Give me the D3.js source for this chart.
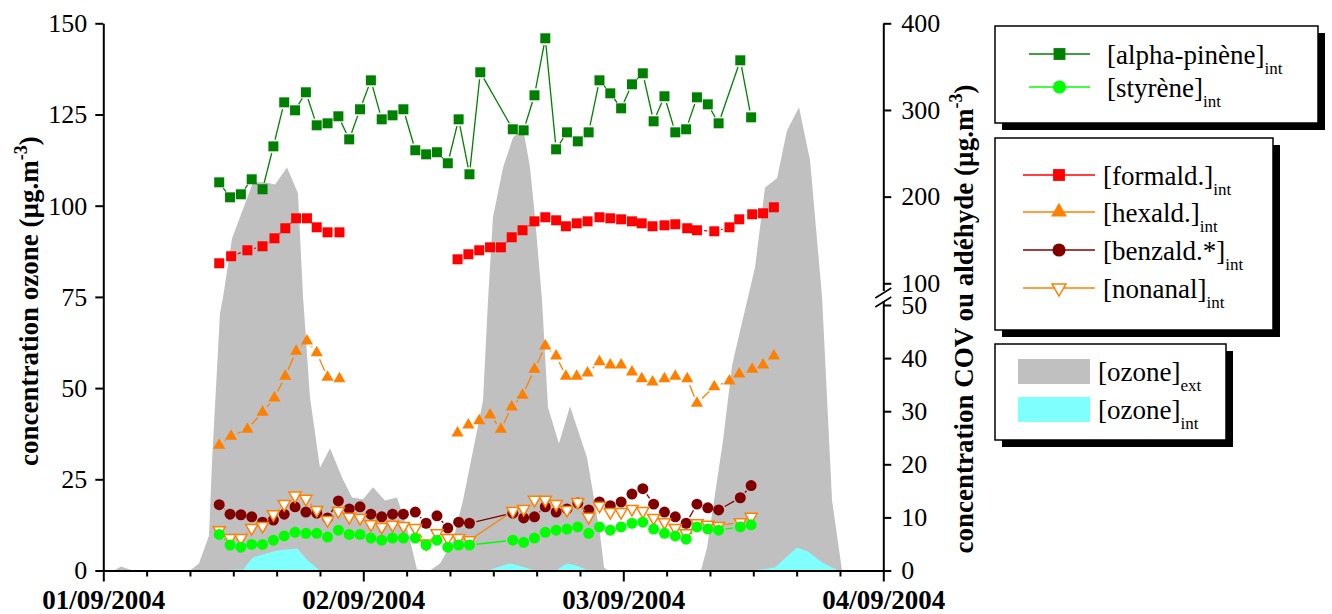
<!DOCTYPE html>
<html>
<head>
<meta charset="utf-8">
<script src="https://cdnjs.cloudflare.com/ajax/libs/d3/7.8.5/d3.min.js"></script>
<style>
  body { margin: 0; background: #fff; }
  svg text { font-family: "Liberation Serif", "Times New Roman", serif; fill: #000; }
</style>
</head>
<body>
<div id="chart"></div>
<script>
// heures depuis le 01/09/2004 00:00
const hoursVoc = [10.7, 11.7, 12.7, 13.7, 14.7, 15.7, 16.7, 17.7, 18.7, 19.7, 20.7, 21.7, 22.7, 23.7, 24.7, 25.7, 26.7, 27.7,
    28.8, 29.8, 30.8, 31.8, 32.8, 33.8, 34.8, 35.8, 36.8, 37.8, 38.8, 39.8, 40.8, 41.8, 42.8, 43.8, 44.8, 45.8, 46.8, 47.8,
    48.8, 49.8, 50.8, 51.8, 52.8, 53.8, 54.8, 55.8, 56.8, 57.8, 58.8, 59.8];

const alphaPinene = [216.5, 199.2, 202.7, 220, 208.5, 258, 308.8, 299.6, 320.4, 282.3, 284.6, 292.7, 266.1, 300.8, 334.2,
    289.2, 293.8, 300.8, 253.5, 248.8, 251.2, 238.5, 289.2, 225.8, 343.5, null, null, 277.7, 276.5, 316.9, 382.7, 254.6,
    274.2, 263.8, 274.2, 334.2, 319.2, 301.9, 329.6, 342.3, 286.9, 315.8, 274.2, 277.7, 314.6, 306.5, 284.6, null, 357.3, 291.5];

const styrene = [6.8, 4.8, 4.4, 4.9, 4.9, 5.7, 6.5, 7.2, 7.0, 7.0, 6.3, 7.6, 6.8, 6.8, 6.1, 5.7, 6.1, 6.1, 6.1, 4.8, 5.7,
    4.4, 4.8, 4.8, null, null, null, 5.7, 5.3, 6.1, 7.2, 7.6, 7.8, 8.2, 7.0, 8.2, 7.6, 8.2, 8.9, 9.1, 7.8, 7.0, 6.5, 5.9,
    8.2, 7.8, 7.6, null, 8.2, 8.6];

const benzald = [12.4, 10.6, 10.5, 10.1, 9.1, 9.5, 10.6, 12.0, 11.0, 10.8, 9.9, 13.1, 11.6, 12.0, 10.6, 10.1, 10.6, 10.6,
    11.0, 8.9, 10.3, 8.0, 9.1, 8.9, null, null, null, 10.8, 9.9, 10.1, 12.0, 11.0, 11.6, 12.7, 11.4, 12.9, 12.2, 12.9, 14.4,
    15.4, 12.5, 11.0, 10.1, 8.9, 12.5, 11.8, 11.4, null, 13.7, 16.0];

const nonanal = [7.6, 6.1, 6.1, 8.0, 8.4, 10.6, 12.5, 14.1, 13.5, 11.4, 9.5, 11.2, 10.1, 9.9, 8.7, 8.2, 8.6, 8.4, 8.0, 5.1,
    7.0, 6.1, 6.1, 5.7, null, null, null, 11.2, 11.6, 13.3, 13.3, 12.5, 11.4, 12.9, 10.1, 12.2, 11.0, 11.0, 11.6, 11.2, 9.9,
    9.1, 8.0, 7.0, 8.9, 8.6, 8.4, null, 9.1, 10.1];

// formaldéhyde et hexanal : autres heures de prélèvement (null = interruption de la courbe)
const hoursAld = [10.7, 11.8, 13.3, 14.7, 15.8, 16.8, 17.8, 18.8, 19.7, 20.7, 21.8, 27,
    32.7, 33.7, 34.7, 35.7, 36.7, 37.7, 38.7, 39.8, 40.8, 41.8, 42.7, 43.7, 44.7, 45.8, 46.8, 47.8, 48.8, 49.7, 50.7,
    51.8, 52.8, 53.9, 54.8, 56.4, 57.8, 58.7, 59.9, 60.9, 61.9];

const formald = [123.1, 131.2, 138.1, 142.7, 151.9, 163.5, 175, 175, 164.6, 158.8, 158.8, null,
    127.7, 133.5, 138.1, 141.5, 141.5, 153.1, 161.2, 171.5, 176.2, 172.7, 165.8, 169.2, 171.5, 176.2, 175, 173.8, 171.5,
    169.2, 165.8, 166.9, 168.1, 163.5, 161.2, 160, 164.6, 173.8, 179.6, 180.8, 187.7];

const hexald = [23.6, 25.3, 26.6, 29.8, 32.5, 36.6, 41.3, 43.2, 41.0, 36.4, 36.1, null,
    25.9, 27.4, 28.2, 29.3, 26.6, 30.8, 33.0, 37.9, 42.3, 40.4, 36.6, 36.6, 37.2, 39.3, 38.7, 38.7, 37.4, 36.1, 35.5,
    36.1, 36.6, 36.1, 31.5, 34.6, 35.7, 37.0, 37.9, 38.7, 40.4];

// ozone extérieur / intérieur (axe de gauche)
const ozoneExtHours = [0, 0.99, 1.63, 2.74, 8.0, 8.83, 9.76, 10.03, 10.77, 11.05, 11.88, 13.82, 14.93, 15.85, 16.96, 17.97,
    18.44, 19.08, 20.0, 20.93, 22.04, 22.96, 23.97, 24.9, 26.0, 27.11, 28.03, 28.96, 30.16, 31.08, 32.28, 33.2, 34.13,
    35.05, 35.51, 35.97, 36.9, 37.82, 38.75, 39.39, 39.85, 40.5, 41.05, 42.06, 43.08, 44.65, 45.85, 46.22, 46.59, 55.17,
    55.73, 57.2, 58.04, 58.78, 59.51, 60.16, 61.08, 62.19, 63.11, 64.22, 65.24, 66.35, 67.27, 68.19, 72];
const ozoneExt = [0, 0, 1.1, 0, 0, 1.9, 9.6, 29.6, 70.5, 74.9, 91.0, 106.4, 106.4, 105.8, 110.5, 103.4,
    74.9, 47.4, 28.2, 33.5, 25.5, 20.0, 19.5, 22.8, 19.2, 20.0, 11.8, 0.3, 0, 1.9, 8.2, 19.2, 32.9,
    46.6, 74.0, 96.8, 110.5, 118.7, 121.2, 110.5, 96.8, 74.0, 44.7, 34.8, 45.0, 31.0, 10.1, 0.8, 0, 0,
    6.3, 35.6, 56.2, 65.8, 74.9, 83.1, 105.0, 107.5, 120.6, 127.0, 112.4, 74.9, 19.2, 0, 0];

const ozoneIntHours = [0, 11.05, 11.97, 12.9, 13.82, 16.04, 17.88, 18.9, 20.0, 35.42, 36.62, 37.54, 38.65, 39.85, 41.79,
    42.81, 43.64, 44.75, 59.97, 62.0, 64.03, 65.05, 66.35, 67.82, 72];
const ozoneInt = [0, 0, 0.3, 0.3, 3.6, 5.5, 6.0, 2.7, 0, 0, 1.1, 1.9, 1.1, 0, 0,
    1.9, 1.4, 0, 0, 0.8, 6.3, 5.2, 2.2, 0, 0];

const leftTicks = [0, 25, 50, 75, 100, 125, 150];
const rightTicks = [0, 10, 20, 30, 40, 50, 100, 200, 300, 400];
const dayTicks = [0, 24, 48, 72];
const dayLabels = ["01/09/2004", "02/09/2004", "03/09/2004", "04/09/2004"];
const minorTicks = [4, 8, 12, 16, 20, 28, 32, 36, 40, 44, 52, 56, 60, 64, 68];

const width = 1332, height = 614;

const svg = d3.select("#chart").append("svg")
    .attr("width", width)
    .attr("height", height);

const x = d3.scaleLinear().domain([0, 72]).range([103.3, 883.3]);
const yLeft = d3.scaleLinear().domain([0, 150]).range([570.5, 23.3]);
// axe droit coupé entre 50 et 100
const yRight = d3.scaleLinear().domain([0, 50, 100, 400]).range([570.5, 305, 283.3, 23.3]);

// aires d'ozone
const area = d3.area()
    .x(d => x(d.h))
    .y0(yLeft(0))
    .y1(d => yLeft(d.v));

svg.append("path")
    .datum(ozoneExtHours.map((h, i) => ({ h: h, v: ozoneExt[i] })))
    .attr("d", area)
    .attr("fill", "#c0c0c0");

svg.append("path")
    .datum(ozoneIntHours.map((h, i) => ({ h: h, v: ozoneInt[i] })))
    .attr("d", area)
    .attr("fill", "#80ffff");

// breakOnNull : la courbe s'interrompt au trou, sinon on relie par-dessus les valeurs manquantes
const series = [
    { hours: hoursVoc, values: alphaPinene, color: "#008000", symbol: d3.symbolSquare, size: 100 },
    { hours: hoursAld, values: formald, color: "#ff0000", symbol: d3.symbolSquare, size: 100, breakOnNull: true },
    { hours: hoursAld, values: hexald, color: "#ff8000", symbol: d3.symbolTriangle, size: 64, breakOnNull: true },
    { hours: hoursVoc, values: benzald, color: "#800000", symbol: d3.symbolCircle, size: 95 },
    { hours: hoursVoc, values: nonanal, color: "#ff8000", symbol: d3.symbolTriangle, size: 64, flip: true, hollow: true },
    { hours: hoursVoc, values: styrene, color: "#00ff00", symbol: d3.symbolCircle, size: 95 }
];

const gap = 7;

series.forEach(s => {
    let pts = s.hours.map((h, i) => ({ h: h, v: s.values[i] }));
    if (!s.breakOnNull) pts = pts.filter(d => d.v != null);
    const g = svg.append("g");

    // segments interrompus autour des symboles (style Origin)
    for (let i = 1; i < pts.length; i++) {
        const a = pts[i - 1], b = pts[i];
        if (a.v == null || b.v == null) continue;
        const x1 = x(a.h), y1 = yRight(a.v), x2 = x(b.h), y2 = yRight(b.v);
        const len = Math.hypot(x2 - x1, y2 - y1);
        if (len <= 2 * gap) continue;
        const ux = (x2 - x1) / len, uy = (y2 - y1) / len;
        g.append("line")
            .attr("x1", x1 + ux * gap).attr("y1", y1 + uy * gap)
            .attr("x2", x2 - ux * gap).attr("y2", y2 - uy * gap)
            .attr("stroke", s.color)
            .attr("stroke-width", 1.3);
    }

    g.selectAll(".mark")
        .data(pts.filter(d => d.v != null))
        .enter()
        .append("path")
        .attr("class", "mark")
        .attr("transform", d => `translate(${x(d.h)},${yRight(d.v)})` + (s.flip ? " rotate(180)" : ""))
        .attr("d", d3.symbol().type(s.symbol).size(s.size))
        .attr("fill", s.hollow ? "#fff" : s.color)
        .attr("stroke", s.hollow ? s.color : "none")
        .attr("stroke-width", 1.5);
});

// axes
svg.append("g")
    .attr("transform", `translate(${x(0)},0)`)
    .call(d3.axisLeft(yLeft).tickValues(leftTicks).tickSize(8).tickSizeOuter(0).tickPadding(8));

svg.append("g")
    .attr("transform", `translate(${x(72)},0)`)
    .call(d3.axisRight(yRight).tickValues(rightTicks).tickSize(8).tickSizeOuter(0).tickPadding(10));

svg.append("g")
    .attr("transform", `translate(0,${yLeft(0)})`)
    .call(d3.axisBottom(x).tickValues(minorTicks).tickSize(6).tickSizeOuter(0).tickFormat(""));

const bottomAxis = svg.append("g")
    .attr("transform", `translate(0,${yLeft(0)})`)
    .call(d3.axisBottom(x).tickValues(dayTicks).tickSize(11).tickSizeOuter(0).tickPadding(8)
        .tickFormat((d, i) => dayLabels[i]));

svg.selectAll(".domain, .tick line")
    .attr("stroke", "#000")
    .attr("stroke-width", 2);

svg.selectAll(".tick text")
    .style("font-family", "'Liberation Serif', 'Times New Roman', serif")
    .style("font-size", "26px")
    .attr("fill", "#000");

bottomAxis.selectAll(".tick text")
    .style("font-weight", "bold")
    .style("font-size", "27px");

// coupure de l'axe droit
svg.append("rect")
    .attr("x", x(72) - 3).attr("y", 291).attr("width", 6).attr("height", 10)
    .attr("fill", "#fff");
[[298, 288], [307, 297]].forEach(p => {
    svg.append("line")
        .attr("x1", x(72) - 8).attr("y1", p[0])
        .attr("x2", x(72) + 8).attr("y2", p[1])
        .attr("stroke", "#000").attr("stroke-width", 1.5);
});

// titres des axes
function axisTitle(tx, ty, label) {
    const t = svg.append("text")
        .attr("transform", `translate(${tx},${ty}) rotate(-90)`)
        .attr("text-anchor", "middle")
        .style("font-weight", "bold")
        .style("font-size", "27px");
    t.append("tspan").text(label + " (µg.m");
    t.append("tspan").attr("dy", -11).style("font-size", "18px").text("-3");
    t.append("tspan").attr("dy", 11).text(")");
}
axisTitle(38, 301, "concentration ozone");
axisTitle(973, 319, "concentration COV ou aldéhyde");

// légendes
function legendBox(bx, by, bw, bh) {
    svg.append("rect").attr("x", bx + 7).attr("y", by + 7).attr("width", bw).attr("height", bh).attr("fill", "#000");
    svg.append("rect").attr("x", bx).attr("y", by).attr("width", bw).attr("height", bh)
        .attr("fill", "#fff").attr("stroke", "#000").attr("stroke-width", 1.5);
}

function legendText(tx, ty, main, sub) {
    const t = svg.append("text").attr("x", tx).attr("y", ty).style("font-size", "27px");
    t.append("tspan").text(main);
    t.append("tspan").attr("dy", 10).style("font-size", "17px").text(sub);
}

function legendLine(x1, x2, cy, color, symbol, size, flip, hollow) {
    svg.append("line").attr("x1", x1).attr("x2", x2).attr("y1", cy).attr("y2", cy)
        .attr("stroke", color).attr("stroke-width", 1.3);
    svg.append("path")
        .attr("transform", `translate(${(x1 + x2) / 2},${cy})` + (flip ? " rotate(180)" : ""))
        .attr("d", d3.symbol().type(symbol).size(size))
        .attr("fill", hollow ? "#fff" : color)
        .attr("stroke", hollow ? color : "none")
        .attr("stroke-width", 1.5);
}

legendBox(995, 26, 323, 97);
legendLine(1029, 1090, 54, "#008000", d3.symbolSquare, 140);
legendText(1107, 64, "[alpha-pinène]", "int");
legendLine(1029, 1090, 87, "#00ff00", d3.symbolCircle, 135);
legendText(1107, 97, "[styrène]", "int");

legendBox(995, 138, 278, 192);
legendLine(1023, 1095, 175, "#ff0000", d3.symbolSquare, 140);
legendText(1103, 185, "[formald.]", "int");
legendLine(1023, 1095, 212, "#ff8000", d3.symbolTriangle, 110);
legendText(1103, 222, "[hexald.]", "int");
legendLine(1023, 1095, 250, "#800000", d3.symbolCircle, 135);
legendText(1103, 260, "[benzald.*]", "int");
legendLine(1023, 1095, 288, "#ff8000", d3.symbolTriangle, 85, true, true);
legendText(1103, 298, "[nonanal]", "int");

legendBox(995, 344, 231, 96);
svg.append("rect").attr("x", 1018).attr("y", 359).attr("width", 72).attr("height", 25).attr("fill", "#c0c0c0");
legendText(1098, 381, "[ozone]", "ext");
svg.append("rect").attr("x", 1018).attr("y", 397).attr("width", 72).attr("height", 25).attr("fill", "#80ffff");
legendText(1098, 419, "[ozone]", "int");
</script>
</body>
</html>
